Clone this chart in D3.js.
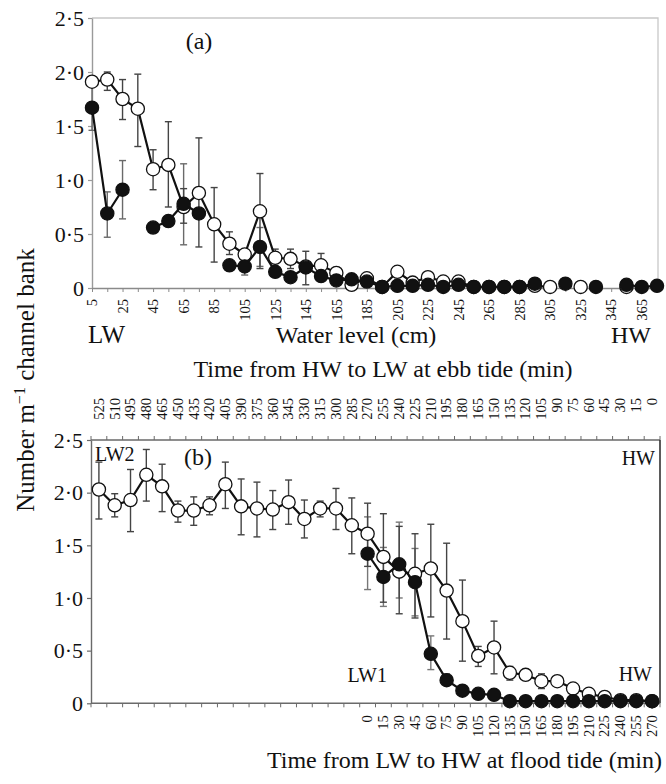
<!DOCTYPE html>
<html><head><meta charset="utf-8">
<script src="https://cdn.jsdelivr.net/npm/d3@7/dist/d3.min.js"></script>
<style>
body{margin:0;background:#fff}
svg{display:block}
text{font-family:"Liberation Serif","Times New Roman",serif;fill:#111}
</style>
</head><body>
<svg id="chart" width="666" height="784"></svg>
<script>
// ---------- DATA ----------
// Panel (a): water level (cm) on ebb tide
const levelsA = [5,15,25,35,45,55,65,75,85,95,105,115,125,135,145,155,165,175,185,195,205,215,225,235,245,255,265,275,285,295,305,315,325,335,345,355,365,375];
const tickLabelsA = [5,25,45,65,85,105,125,145,165,185,205,225,245,265,285,305,325,345,365];
const openA   = [1.91,1.93,1.75,1.66,1.10,1.14,0.75,0.88,0.59,0.41,0.31,0.71,0.28,0.27,0.20,0.21,0.14,0.03,0.09,0.01,0.15,0.05,0.10,0.06,0.06,0.01,0.01,0.01,0.01,0.02,0.01,null,0.01,null,null,0.01,null,null];
const filledA = [1.67,0.69,0.91,null,0.56,0.62,0.78,0.69,null,0.21,0.20,0.38,0.15,0.10,0.19,0.11,0.07,0.08,0.06,0.01,0.02,0.02,0.03,0.01,0.03,0.01,0.01,0.01,0.01,0.04,null,0.04,null,0.01,null,0.03,0.01,0.02];
const openErrLoA  = [null,1.83,1.56,1.31,0.91,0.75,0.60,0.38,0.24,0.31,null,0.18,0.20,0.18,0.03,0.10,0.08];
const openErrHiA  = [null,2.00,1.93,1.98,1.28,1.54,0.92,1.39,0.93,0.52,null,1.06,0.36,0.36,0.34,0.32,0.19];
const filledErrLoA = [1.46,0.47,0.64,null,null,null,0.40,null,null,null,0.12,0.20];
const filledErrHiA = [1.87,0.89,1.18,null,null,null,1.15,null,null,null,0.28,0.56];

// Panel (b): time categories
const ebbLabelsB   = [525,510,495,480,465,450,435,420,405,390,375,360,345,330,315,300,285,270,255,240,225,210,195,180,165,150,135,120,105,90,75,60,45,30,15,0];
const floodLabelsB = [0,15,30,45,60,75,90,105,120,135,150,165,180,195,210,225,240,255,270];
const openB   = [2.03,1.88,1.93,2.17,2.06,1.83,1.83,1.88,2.08,1.87,1.85,1.84,1.91,1.75,1.85,1.85,1.69,1.61,1.39,1.25,1.23,1.28,1.07,0.78,0.45,0.53,0.29,0.27,0.21,0.21,0.14,0.09,0.06,0.03,0.03,0.02];
const filledB = [null,null,null,null,null,null,null,null,null,null,null,null,null,null,null,null,null,1.42,1.20,1.32,1.15,0.47,0.22,0.12,0.09,0.08,0.02,0.02,0.02,0.02,0.02,0.02,0.02,0.02,0.02,0.02];
const openErrLoB = [1.75,1.77,1.63,1.92,1.82,1.72,1.69,1.79,1.85,1.60,1.58,1.65,1.70,1.57,1.77,1.65,1.42,1.30,0.96,0.85,0.81,0.82,0.61,0.40,0.35,0.28,0.22,null,0.14];
const openErrHiB = [2.29,1.99,2.22,2.41,2.27,1.92,1.96,1.96,2.29,2.13,2.10,2.02,2.12,1.93,1.92,2.04,1.95,1.90,1.80,1.68,1.61,1.70,1.52,1.17,0.54,0.78,0.35,null,0.28];
const filledErrLoB = [null,null,null,null,null,null,null,null,null,null,null,null,null,null,null,null,null,1.08,0.92,1.00,0.83,0.32,0.17];
const filledErrHiB = [null,null,null,null,null,null,null,null,null,null,null,null,null,null,null,null,null,1.77,1.48,1.72,1.47,0.64,0.28];

const yTicks = [0,0.5,1.0,1.5,2.0,2.5];

// ---------- DRAW ----------
const svg = d3.select("#chart");
const fmt = d => d === 0 ? "0" : d3.format(".1f")(d).replace(".", "\u00B7");
const R = 6.6;

function drawSeries(g, xs, ys, vals, cls, filled) {
  const pts = xs.map((x,i)=>({x, v: vals[i]}));
  g.append("path")
    .datum(pts)
    .attr("fill","none").attr("stroke","#111").attr("stroke-width",2.2)
    .attr("d", d3.line().defined(d=>d.v!=null).x(d=>d.x).y(d=>ys(d.v)));
  g.selectAll("circle."+cls).data(pts.filter(d=>d.v!=null)).join("circle")
    .attr("class",cls)
    .attr("cx",d=>d.x).attr("cy",d=>ys(d.v)).attr("r",R)
    .attr("fill", filled ? "#111" : "#fff")
    .attr("stroke","#111").attr("stroke-width",1.3);
}
function drawErr(g, xs, ys, lo, hi, color) {
  const d = xs.map((x,i)=>({x, lo: lo[i], hi: hi[i]})).filter(e=>e.lo!=null && e.hi!=null);
  const gg = g.append("g").attr("stroke",color).attr("stroke-width",1.4).attr("fill","none");
  gg.selectAll("line.v").data(d).join("line").attr("class","v")
    .attr("x1",e=>e.x).attr("x2",e=>e.x).attr("y1",e=>ys(e.lo)).attr("y2",e=>ys(e.hi));
  gg.selectAll("line.t").data(d).join("line").attr("class","t")
    .attr("x1",e=>e.x-3.5).attr("x2",e=>e.x+3.5).attr("y1",e=>ys(e.hi)).attr("y2",e=>ys(e.hi));
  gg.selectAll("line.b").data(d).join("line").attr("class","b")
    .attr("x1",e=>e.x-3.5).attr("x2",e=>e.x+3.5).attr("y1",e=>ys(e.lo)).attr("y2",e=>ys(e.lo));
}
function styleYAxis(g, color) {
  g.select(".domain").attr("stroke",color).attr("stroke-width",1.4);
  g.selectAll(".tick line").attr("stroke",color).attr("stroke-width",1.2);
  g.selectAll(".tick text").attr("font-size",22).attr("font-family","Liberation Serif, serif").attr("fill","#111").attr("x",-8);
}

// ===== Panel (a) =====
const xA = d3.scaleLinear().domain([5,375]).range([92,657]);
const yA = d3.scaleLinear().domain([0,2.5]).range([288,18]);
const gA = svg.append("g");
gA.append("path").attr("fill","none").attr("stroke","#c8c8c8").attr("stroke-width",1.3)
  .attr("d",`M${xA.range()[0]},${yA(2.5)}H${xA(375)+1}V${yA(0)}`);
const axA = gA.append("g").attr("transform",`translate(${xA.range()[0]},0)`)
  .call(d3.axisLeft(yA).tickValues(yTicks).tickFormat(fmt).tickSize(4).tickSizeOuter(0));
styleYAxis(axA, "#9a9a9a");
const axAx = gA.append("g").attr("transform",`translate(0,${yA(0)})`)
  .call(d3.axisBottom(xA).tickValues(levelsA).tickSize(4).tickSizeOuter(0)
    .tickFormat(d => tickLabelsA.includes(d) ? d : ""));
axAx.select(".domain").attr("stroke","#8a8a8a").attr("stroke-width",1.3);
axAx.selectAll(".tick line").attr("stroke","#8a8a8a");
axAx.selectAll(".tick text").attr("font-size",14.5).attr("font-family","Liberation Serif, serif").attr("fill","#111")
  .attr("transform","rotate(-90)").attr("text-anchor","end").attr("x",-11).attr("y",0).attr("dy","0.33em");

const pxA = levelsA.map(v=>xA(v));
drawErr(gA, pxA, yA, filledErrLoA, filledErrHiA, "#6a6a6a");
drawErr(gA, pxA, yA, openErrLoA, openErrHiA, "#444");
drawSeries(gA, pxA, yA, openA, "oa", false);
drawSeries(gA, pxA, yA, filledA, "fa", true);

gA.append("text").attr("x",199).attr("y",49).attr("text-anchor","middle").attr("font-size",24).text("(a)");
gA.append("text").attr("x",88).attr("y",343).attr("font-size",25).text("LW");
gA.append("text").attr("x",356).attr("y",343).attr("text-anchor","middle").attr("font-size",24).text("Water level (cm)");
gA.append("text").attr("x",651).attr("y",343).attr("text-anchor","end").attr("font-size",24).text("HW");
gA.append("text").attr("x",383).attr("y",377).attr("text-anchor","middle").attr("font-size",24).text("Time from HW to LW at ebb tide (min)");

// ===== Panel (b) =====
const xB = d3.scaleBand().domain(ebbLabelsB).range([91,660]).paddingInner(0).paddingOuter(0);
const yB = d3.scaleLinear().domain([0,2.5]).range([703.3,440]);
const gB = svg.append("g");
const bw = xB.bandwidth();
const left = xB.range()[0], right = xB.range()[1];
gB.append("path").attr("fill","none").attr("stroke","#6a6a6a").attr("stroke-width",1.5)
  .attr("d",`M${left},${yB(0)}H${right}M${left},${yB(2.5)}H${right}`);
gB.append("line").attr("x1",right).attr("x2",right).attr("y1",yB(0)).attr("y2",yB(2.5)).attr("stroke","#333").attr("stroke-width",1.6);
const axB = gB.append("g").attr("transform",`translate(${left},0)`)
  .call(d3.axisLeft(yB).tickValues(yTicks).tickFormat(fmt).tickSize(4).tickSizeOuter(0));
styleYAxis(axB, "#6a6a6a");
const bounds = ebbLabelsB.map(c=>xB(c)).concat([right]);
gB.selectAll("line.tb").data(bounds).join("line").attr("class","tb")
  .attr("x1",d=>d).attr("x2",d=>d).attr("y1",yB(0)).attr("y2",yB(0)+4).attr("stroke","#6a6a6a");
gB.selectAll("line.tt").data(bounds).join("line").attr("class","tt")
  .attr("x1",d=>d).attr("x2",d=>d).attr("y1",yB(2.5)).attr("y2",yB(2.5)-4).attr("stroke","#6a6a6a");
gB.selectAll("text.top").data(ebbLabelsB).join("text").attr("class","top")
  .attr("transform",d=>`translate(${xB(d)+bw/2},398) rotate(-90)`)
  .attr("text-anchor","end").attr("dy","0.33em").attr("font-size",14.5).text(d=>d);
const offB = ebbLabelsB.length - floodLabelsB.length;
gB.selectAll("text.bot").data(floodLabelsB).join("text").attr("class","bot")
  .attr("transform",(d,i)=>`translate(${xB(ebbLabelsB[offB+i])+bw/2},${yB(0)+12}) rotate(-90)`)
  .attr("text-anchor","end").attr("dy","0.33em").attr("font-size",14.5).text(d=>d);

const pxB = ebbLabelsB.map(c=>xB(c)+bw/2);
drawErr(gB, pxB, yB, filledErrLoB, filledErrHiB, "#777");
drawErr(gB, pxB, yB, openErrLoB, openErrHiB, "#444");
drawSeries(gB, pxB, yB, openB, "ob", false);
drawSeries(gB, pxB, yB, filledB, "fb", true);

gB.append("text").attr("x",95).attr("y",461).attr("font-size",20).text("LW2");
gB.append("text").attr("x",198).attr("y",465).attr("text-anchor","middle").attr("font-size",24).text("(b)");
gB.append("text").attr("x",655).attr("y",465).attr("text-anchor","end").attr("font-size",20).text("HW");
gB.append("text").attr("x",387).attr("y",682).attr("text-anchor","end").attr("font-size",20).text("LW1");
gB.append("text").attr("x",652).attr("y",681).attr("text-anchor","end").attr("font-size",20).text("HW");
gB.append("text").attr("x",662).attr("y",768).attr("text-anchor","end").attr("font-size",24).text("Time from LW to HW at flood tide (min)");

const yt = svg.append("text").attr("transform","translate(34,380) rotate(-90)").attr("text-anchor","middle").attr("font-size",25);
yt.append("tspan").text("Number m");
yt.append("tspan").attr("dy",-9).attr("font-size",16).text("\u22121");
yt.append("tspan").attr("dy",9).text(" channel bank");
</script>
</body></html>
